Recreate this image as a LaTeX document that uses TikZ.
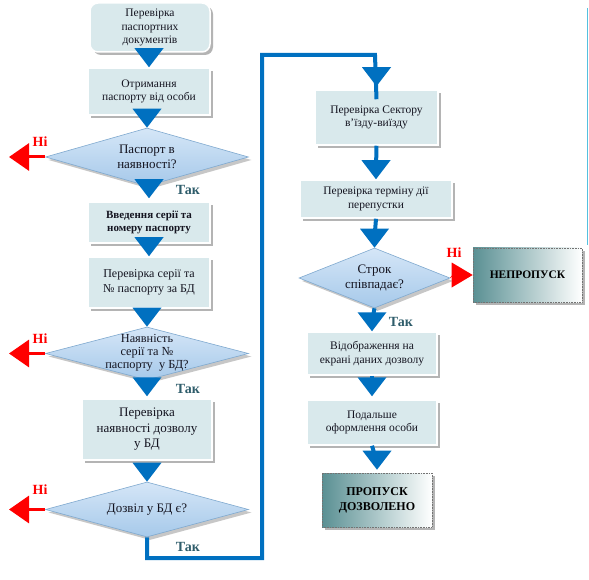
\documentclass[tikz,border=0pt]{standalone}
\usepackage{fontspec}
\setmainfont{Liberation Serif}
\usetikzlibrary{arrows.meta,shapes.geometric,shadows}
\definecolor{boxfill}{HTML}{D9E9EC}
\definecolor{txt}{HTML}{141420}
\definecolor{flowblue}{HTML}{0070C0}
\definecolor{takcol}{HTML}{2F5D6B}
\definecolor{diatop}{HTML}{D5E6F7}
\definecolor{diabot}{HTML}{A6C9EA}
\definecolor{diaborder}{HTML}{7FA9CF}
\definecolor{gradteal}{HTML}{5A9093}
\definecolor{edgecyan}{HTML}{55C0E0}
\tikzset{
  boxshadow/.style={drop shadow={shadow xshift=3pt,shadow yshift=-3pt,fill=black!45,opacity=0.65}},
  procbox/.style={rectangle,fill=boxfill,draw=white,line width=1.5pt,boxshadow,
    text=txt,align=center,inner sep=2pt,font=\fontsize{11.5}{13.5}\selectfont},
  decision/.style={diamond,top color=diatop,bottom color=diabot,draw=diaborder,line width=0.6pt,
    inner sep=0pt,drop shadow={shadow xshift=3pt,shadow yshift=-3pt,fill=black!40,opacity=0.55}},
  dtext/.style={text=txt,align=center,font=\fontsize{13}{15}\selectfont},
  endbox/.style={rectangle,left color=gradteal,middle color=gradteal!45,right color=white,draw=black!55,densely dotted,line width=0.6pt,
    boxshadow,text=black,align=center,font=\bfseries\fontsize{11.5}{14}\selectfont},
  shaftline/.style={draw=flowblue,line width=4pt},
  noarrow/.style={draw=red,line width=3pt,-{Triangle[width=27pt,length=20pt]},red},
  nolabel/.style={text=red,font=\bfseries\fontsize{14}{16}\selectfont},
  yeslabel/.style={text=takcol,font=\bfseries\fontsize{14}{16}\selectfont},
  pics/bltri/.style={code={\fill[flowblue] (-14.5pt,19pt) -- (14.5pt,19pt) -- (0pt,0pt) -- cycle;}},
  pics/redtri/.style={code={\fill[red] (-21pt,12.5pt) -- (-21pt,-12.5pt) -- (0pt,0pt) -- cycle;}}
}
\begin{document}
\begin{tikzpicture}[x=1pt,y=-1pt]
\useasboundingbox (0,0) rectangle (589,580);
\fill[white] (0,0) rectangle (589,580);
% thin edge line at right
\draw[edgecyan,line width=1pt] (587.5,8) -- (587.5,245);

% main connector bend points
\coordinate (c1) at (262,558);
\coordinate (c2) at (262,55);
\coordinate (c3) at (375,55);

% left column
\node[procbox,rounded corners=8pt,minimum width=120pt,minimum height=49pt] (b1) at (150,27.5) {Перевірка\\паспортних\\документів};
\node[procbox,minimum width=122pt,minimum height=47pt] (b2) at (149,91.5) {Отримання\\паспорту від особи};
\node[decision,minimum width=203pt,minimum height=58pt] (d1) at (147,157) {};
\node[dtext] (d1t) at (d1.center) {Паспорт в\\наявності?};
\node[procbox,minimum width=122pt,minimum height=41pt,font=\bfseries\fontsize{11}{13.5}\selectfont] (b3) at (149,222.5) {Введення серії та\\номеру паспорту};
\node[procbox,minimum width=122pt,minimum height=51pt,font=\fontsize{12}{14.5}\selectfont] (b4) at (149,282.5) {Перевірка серії та\\№ паспорту за БД};
\node[decision,minimum width=203pt,minimum height=53pt] (d2) at (147,353.5) {};
\node[dtext,font=\fontsize{12.3}{13}\selectfont] (d2t) at ([yshift=1pt]d2.center) {Наявність\\серії та №\\паспорту\ \ у БД?};
\node[procbox,minimum width=130pt,minimum height=61pt,font=\fontsize{13}{15.5}\selectfont] (b5) at (147,429.5) {Перевірка\\наявності дозволу\\у БД};
\node[decision,minimum width=203pt,minimum height=55pt] (d3) at (147,509.5) {};
\node[dtext] (d3t) at (d3.center) {Дозвіл у БД є?};

% right column
\node[procbox,minimum width=123pt,minimum height=55pt] (r1) at (376.5,117.5) {Перевірка Сектору\\в'їзду-виїзду};
\node[procbox,minimum width=152pt,minimum height=38pt] (r2) at (376,199) {Перевірка терміну дії\\перепустки};
\node[decision,minimum width=151pt,minimum height=60pt] (rd) at (374.5,278) {};
\node[dtext] (rdt) at (rd.center) {Строк\\співпадає?};
\node[endbox,minimum width=109pt,minimum height=54pt] (nep) at (527.5,275) {НЕПРОПУСК};
\node[procbox,minimum width=130pt,minimum height=43pt] (r3) at (372,353.5) {Відображення на\\екрані даних дозволу};
\node[procbox,minimum width=130pt,minimum height=45pt] (r4) at (372,422.5) {Подальше\\оформлення особи};
\node[endbox,minimum width=110pt,minimum height=54pt,font=\bfseries\fontsize{12}{15}\selectfont] (r5) at (377,500) {ПРОПУСК\\ДОЗВОЛЕНО};

% main connector
\draw[shaftline,line join=miter] (d3.south) |- (c1) -- (c2) -- (c3) -- ([yshift=-10pt]r1.north);
\pic at ([yshift=3pt]r1.north) {bltri};

% left column arrows
\pic at (b2.north) {bltri};
\pic at (d1.north) {bltri};
\pic at ([yshift=3pt]b3.north) {bltri};
\pic at (b4.north) {bltri};
\pic at (d2.north) {bltri};
\pic at ([yshift=2pt]b5.north) {bltri};
\pic at (d3.north) {bltri};

% right column arrows
\draw[shaftline] (r1.south) -- ([yshift=10pt]r2.north);
\pic at (r2.north) {bltri};
\draw[shaftline] (r2.south) -- ([yshift=10pt]rd.north);
\pic at (rd.north) {bltri};
\draw[shaftline] (rd.south) -- ([yshift=10pt]r3.north);
\pic at (r3.north) {bltri};
\draw[shaftline] (r3.south) -- ([yshift=10pt]r4.north);
\pic at ([yshift=3pt]r4.north) {bltri};
\draw[shaftline] (r4.south) -- ([yshift=10pt]r5.north);
\pic at ([yshift=3pt]r5.north) {bltri};

% red "no" arrows
\coordinate (n1) at (9,157);
\coordinate (n2) at (9,353.5);
\coordinate (n3) at (9,509.5);
\draw[noarrow] (d1.west) -- (n1);
\draw[noarrow] (d2.west) -- (n2);
\draw[noarrow] (d3.west) -- (n3);
\draw[red,line width=0.5pt] (rd.east) -- ([xshift=-20pt]nep.west);
\pic at (nep.west) {redtri};

% labels
\node[nolabel] (l1) at (40,142) {Ні};
\node[nolabel] (l2) at (40,339) {Ні};
\node[nolabel] (l3) at (40,490) {Ні};
\node[nolabel] (l4) at (454,253) {Ні};
\node[yeslabel] (y1) at (188,190) {Так};
\node[yeslabel] (y2) at (188,389) {Так};
\node[yeslabel] (y3) at (188,547) {Так};
\node[yeslabel] (y4) at (401,322) {Так};
\end{tikzpicture}
\end{document}
